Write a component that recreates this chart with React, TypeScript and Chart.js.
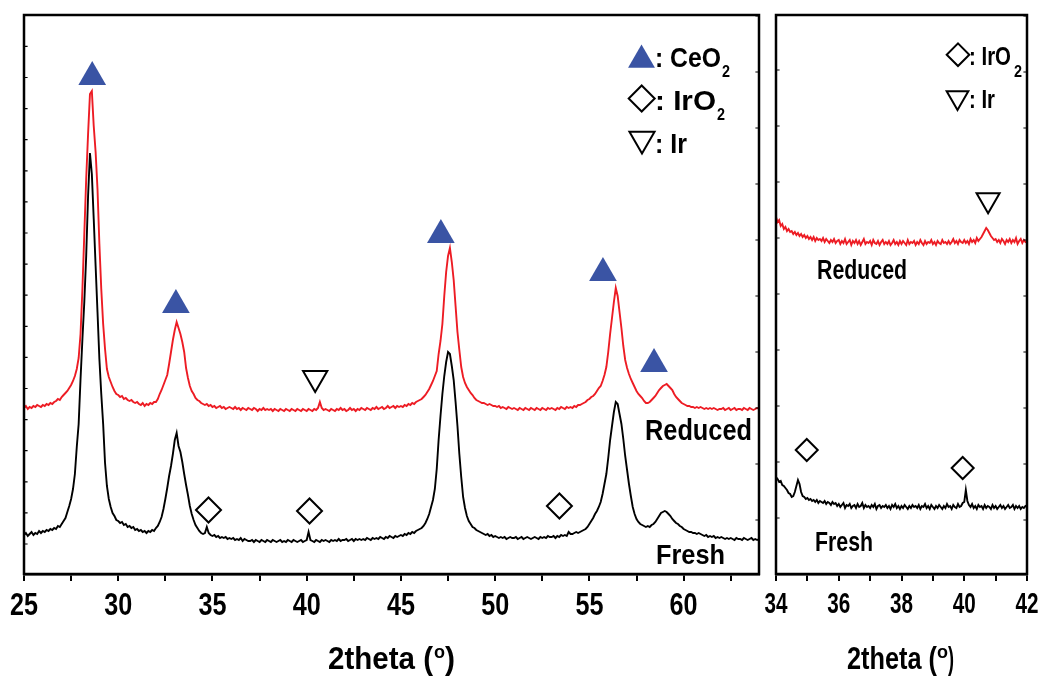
import React, { useEffect, useRef } from 'react';
import { Chart, registerables } from 'chart.js';

Chart.register(...registerables);

// ---------- DATA ----------
// 2theta sampling grids (degrees)
const leftTheta: number[] = Array.from({ length: 391 }, (_, i) => +(25 + i * 0.1).toFixed(1));
const rightTheta: number[] = Array.from({ length: 161 }, (_, i) => +(34 + i * 0.05).toFixed(2));

// Fresh catalyst, 25–64° (arb. units)
const freshLeft: number[] = [
  39, 41, 38, 40, 42, 39, 41, 40, 43, 41,
  43, 42, 44, 43, 45, 44, 46, 45, 48, 47,
  50, 53, 56, 62, 68, 75, 85, 100, 127, 150,
  195, 235, 272, 318, 378, 421, 400, 355, 308, 262,
  215, 180, 150, 111, 88, 75, 67, 61, 58, 54,
  53, 51, 52, 49, 50, 47, 48, 46, 47, 44,
  45, 43, 44, 42, 43, 41, 43, 42, 44, 43,
  46, 48, 52, 57, 65, 75, 86, 98, 108, 120,
  134, 141, 128, 122, 112, 100, 89, 79, 68, 60,
  54, 49, 46, 43, 41, 40, 41, 47, 41, 39,
  38, 39, 37, 38, 36, 37, 36, 37, 35, 36,
  35, 36, 34, 35, 34, 36, 33, 35, 34, 33,
  33, 34, 32, 34, 33, 32, 34, 33, 32, 34,
  33, 32, 34, 33, 32, 33, 34, 32, 33, 32,
  34, 33, 32, 34, 33, 32, 33, 34, 32, 33,
  34, 42, 34, 33, 32, 34, 33, 32, 34, 33,
  34, 33, 32, 34, 33, 34, 33, 35, 33, 34,
  34, 35, 33, 34, 35, 33, 35, 34, 35, 34,
  35, 34, 36, 35, 34, 36, 35, 36, 35, 37,
  36, 35, 37, 36, 38, 37, 36, 38, 37, 38,
  39, 38, 40, 39, 41, 40, 42, 41, 43, 44,
  45, 46, 48, 51, 55, 60, 67, 74, 85, 105,
  134, 158, 180, 198, 212, 222, 220, 208, 194, 172,
  148, 120, 97, 77, 66, 58, 53, 50, 47, 46,
  44, 43, 42, 41, 40, 39, 40, 38, 39, 37,
  38, 37, 36, 37, 36, 37, 35, 36, 37, 36,
  36, 37, 35, 36, 37, 35, 36, 37, 36, 35,
  36, 37, 36, 35, 37, 36, 37, 36, 38, 37,
  37, 38, 36, 38, 37, 39, 38, 39, 38, 42,
  40, 40, 41, 42, 41, 42, 43, 44, 45, 47,
  50, 53, 56, 60, 63, 67, 72, 80, 90, 100,
  116, 134, 148, 162, 172, 170, 160, 150, 135, 118,
  104, 90, 78, 67, 60, 55, 52, 50, 49, 48,
  47, 48, 47, 49, 50, 52, 55, 58, 61, 62,
  63, 62, 60, 58, 55, 53, 51, 50, 48, 47,
  45, 44, 43, 42, 42, 41, 41, 40, 41, 40,
  39, 38, 39, 37, 38, 37, 38, 36, 37, 36,
  37, 36, 35, 36, 35, 36, 35, 34, 36, 35,
  35, 34, 36, 35, 34, 35, 36, 34, 35, 34, 35,
];

// Reduced catalyst, 25–64°
const reducedLeft: number[] = [
  166, 168, 165, 167, 166, 168, 167, 169, 168, 167,
  169, 168, 170, 169, 171, 170, 172, 173, 175, 174,
  177, 179, 181, 183, 186, 189, 193, 198, 205, 216,
  240, 285, 340, 395, 440, 480, 483, 448, 422, 385,
  330, 285, 250, 225, 205, 197, 192, 187, 183, 180,
  179, 177, 178, 175, 176, 174, 173, 174, 172, 171,
  172, 170, 169, 171, 168, 170, 169, 171, 170, 172,
  172, 175, 180, 184, 189, 194, 199, 210, 222, 234,
  244, 252, 246, 240, 232, 222, 206, 196, 188, 183,
  180, 176, 174, 173, 171, 170, 169, 170, 168, 169,
  167, 168, 166, 167, 168, 166, 167, 165, 166, 167,
  166, 165, 167, 165, 166, 164, 166, 165, 164, 166,
  165, 164, 166, 165, 163, 165, 164, 166, 164, 165,
  164, 165, 163, 165, 164, 163, 165, 164, 163, 165,
  164, 163, 165, 164, 163, 165, 164, 163, 165, 164,
  163, 165, 164, 163, 165, 164, 166, 172, 166, 164,
  165, 164, 163, 165, 164, 163, 165, 164, 166, 164,
  165, 163, 164, 166, 164, 165, 163, 165, 164, 166,
  165, 164, 166, 165, 164, 166, 165, 167, 165, 166,
  167, 165, 166, 168, 166, 167, 168, 166, 168, 167,
  168, 167, 169, 168, 170, 169, 171, 170, 172, 173,
  174, 175, 177, 179, 182, 185, 189, 193, 198, 203,
  220, 233, 250, 278, 302, 318, 326, 312, 294, 268,
  242, 224, 207, 197, 191, 187, 184, 181, 179, 176,
  174, 173, 172, 171, 171, 170, 169, 170, 169, 168,
  168, 167, 168, 166, 167, 166, 165, 167, 166, 165,
  166, 165, 164, 166, 165, 164, 166, 165, 164, 166,
  165, 164, 166, 165, 164, 166, 165, 164, 166, 165,
  166, 165, 164, 166, 165, 167, 166, 165, 167, 166,
  167, 166, 168, 167, 169, 169, 170, 171, 172, 174,
  175, 177, 178, 180, 183, 186, 188, 193, 199, 207,
  222, 240, 256, 272, 286, 278, 262, 246, 228, 214,
  206, 200, 195, 191, 187, 183, 180, 178, 176, 173,
  171, 171, 172, 174, 176, 178, 181, 184, 186, 188,
  189, 190, 188, 186, 184, 180, 177, 175, 173, 171,
  170, 169, 168, 168, 167, 167, 166, 167, 166, 167,
  166, 165, 166, 165, 166, 165, 166, 165, 164, 165,
  165, 166, 164, 165, 166, 164, 165, 166, 164, 165,
  165, 164, 166, 165, 164, 166, 165, 164, 165, 166, 165,
];

// Zoomed region 34–42°
const reducedRight: number[] = [
  357, 352, 354, 348, 350, 345, 347, 343, 345, 342,
  343, 340, 342, 339, 341, 338, 340, 337, 339, 336,
  338, 335, 337, 334, 337, 333, 336, 334, 335, 333,
  336, 332, 335, 333, 331, 334, 332, 335, 331, 333,
  334, 330, 333, 331, 335, 330, 332, 334, 329, 333,
  331, 334, 330, 333, 329, 332, 335, 330, 332, 331,
  333, 329, 334, 331, 330, 333, 329, 332, 334, 330,
  332, 330, 333, 329, 331, 334, 330, 332, 329, 333,
  330, 333, 331, 329, 334, 330, 332, 331, 333, 329,
  332, 330, 334, 331, 329, 333, 330, 332, 331, 334,
  330, 332, 329, 333, 331, 330, 334, 331, 332, 330,
  333, 330, 332, 335, 331, 333, 330, 334, 332, 331,
  334, 331, 333, 330, 335, 332, 334, 331, 336, 333,
  335, 337, 340, 343, 346, 344, 341, 338, 336, 334,
  335, 332, 334, 331, 335, 333, 330, 334, 332, 335,
  331, 334, 332, 336, 330, 333, 335, 331, 334, 332,
  333,
];

const freshRight: number[] = [
  97, 95, 92, 93, 89, 88, 86, 84, 81, 80,
  77, 78, 82, 88, 94, 90, 82, 78, 77, 75,
  76, 74, 75, 73, 74, 72, 74, 71, 73, 72,
  71, 73, 70, 72, 71, 69, 72, 70, 71, 68,
  70, 67, 69, 71, 66, 69, 68, 70, 66, 68,
  69, 66, 70, 67, 68, 71, 66, 69, 67, 68,
  66, 69, 67, 70, 65, 68, 69, 66, 68, 67,
  69, 66, 68, 65, 69, 67, 70, 66, 68, 65,
  68, 66, 69, 67, 65, 68, 66, 69, 67, 68,
  66, 69, 65, 68, 67, 70, 66, 68, 65, 69,
  67, 65, 68, 66, 69, 67, 65, 68, 66, 70,
  67, 68, 65, 69, 67, 66, 70, 67, 68, 71,
  72, 84, 73, 69, 67, 70, 66, 68, 65, 69,
  67, 68, 65, 69, 66, 68, 67, 65, 69, 66,
  68, 65, 67, 69, 66, 68, 65, 67, 69, 66,
  67, 69, 65, 68, 66, 68, 65, 67, 66, 68,
  67,
];

// Peak markers
const ceo2X = [28.62, 33.06, 47.12, 55.72, 58.43];
const ceo2Y = [497, 269, 339, 301, 210];
const iro2LeftX = [34.79, 40.15, 53.41];
const iro2LeftY = [64, 63, 68];
const irLeftX = [40.45];
const irLeftY = [196];
const iro2RightX = [34.98, 39.95];
const iro2RightY = [124, 106];
const irRightX = [40.76];
const irRightY = [374];

// Axis settings
const leftRange = [25, 64];
const rightRange = [34, 42];
const leftTickStep = 2.5;
const rightTickStep = 1;
const leftLabelEvery = 5;
const rightLabelEvery = 2;

// ---------- STYLE / LAYOUT ----------
const RED = '#ed1c24';
const BLUE = '#3a54a4';
const FONT = '"Liberation Sans", Arial, sans-serif';
const Y_MAX = 559;

type Txt = [string, number, number, number, number]; // text, x, baseline, size, width
type Sym = { kind: 'tri' | 'inv' | 'dia'; x: number; y: number; r: number; fill?: string };

interface Panel {
  canvasLeft: number;
  canvasWidth: number;
  plotLeft: number;
  plotRight: number;
  labelEvery: number;
  labelSize: number;
  labelWidth: number;
  labelBase: number;
  texts: Txt[];
  symbols: Sym[];
  leftTick: [number, number];
  rightTick: [number, number];
}

const leftPanel: Panel = {
  canvasLeft: 0,
  canvasWidth: 770,
  plotLeft: 24,
  plotRight: 759,
  labelEvery: leftLabelEvery,
  labelSize: 32,
  labelWidth: 28,
  labelBase: 615,
  texts: [
    ['2theta (', 328, 669, 32, 105],
    ['o', 434, 658, 19, 11],
    [')', 445, 669, 32, 10],
    [': CeO', 655, 67, 28, 66],
    ['2', 722, 77, 17, 8],
    [': IrO', 655, 110, 28, 61],
    ['2', 717, 120, 17, 8],
    [': Ir', 655, 153, 28, 32],
    ['Reduced', 645, 440, 29, 107],
    ['Fresh', 656, 564, 28, 69],
  ],
  symbols: [
    { kind: 'tri', x: 641.5, y: 60, r: 15.5, fill: BLUE },
    { kind: 'dia', x: 641.7, y: 98.5, r: 13 },
    { kind: 'inv', x: 642, y: 139, r: 14.5 },
  ],
  leftTick: [30, 31.1],
  rightTick: [54, 56],
};

const rightPanel: Panel = {
  canvasLeft: 760,
  canvasWidth: 282,
  plotLeft: 776,
  plotRight: 1027,
  labelEvery: rightLabelEvery,
  labelSize: 30,
  labelWidth: 23,
  labelBase: 613,
  texts: [
    ['2theta (', 847, 669, 32, 90],
    ['o', 937, 658, 19, 11],
    [')', 948, 669, 32, 6],
    [': IrO', 969, 65, 26, 42],
    ['2', 1014, 77, 16, 8],
    [': Ir', 969, 108, 26, 26],
    ['Reduced', 817, 279, 27, 90],
    ['Fresh', 815, 551, 28, 58],
  ],
  symbols: [
    { kind: 'dia', x: 958, y: 54.7, r: 11.3 },
    { kind: 'inv', x: 957.5, y: 97.5, r: 12.5 },
  ],
  leftTick: [56, 56],
  rightTick: [54, 56],
};

function fitText(ctx: CanvasRenderingContext2D, t: Txt, offX: number) {
  const [text, x, y, size, width] = t;
  ctx.font = `bold ${size}px ${FONT}`;
  const w = ctx.measureText(text).width;
  ctx.save();
  ctx.translate(x - offX, y);
  ctx.scale(width / w, 1);
  ctx.fillStyle = '#000';
  ctx.textAlign = 'left';
  ctx.textBaseline = 'alphabetic';
  ctx.fillText(text, 0, 0);
  ctx.restore();
}

function drawShape(ctx: CanvasRenderingContext2D, s: Sym, offX: number) {
  const x = s.x - offX;
  const { y, r } = s;
  const h = r * Math.sin((2 * Math.PI) / 3);
  ctx.beginPath();
  if (s.kind === 'tri' || s.kind === 'inv') {
    const d = s.kind === 'tri' ? 1 : -1;
    ctx.moveTo(x, y - d * r);
    ctx.lineTo(x + h, y + (d * r) / 2);
    ctx.lineTo(x - h, y + (d * r) / 2);
  } else {
    ctx.moveTo(x, y - r);
    ctx.lineTo(x + r, y);
    ctx.lineTo(x, y + r);
    ctx.lineTo(x - r, y);
  }
  ctx.closePath();
  if (s.fill) {
    ctx.fillStyle = s.fill;
    ctx.fill();
  } else {
    ctx.lineWidth = 2;
    ctx.strokeStyle = '#000';
    ctx.stroke();
  }
}

function makePlugin(panel: Panel) {
  return {
    id: 'decor',
    afterDraw(chart: any) {
      const ctx: CanvasRenderingContext2D = chart.ctx;
      const { left, right, top, bottom } = chart.chartArea;
      const xs = chart.scales.x;
      const ys = chart.scales.y;
      ctx.save();
      ctx.strokeStyle = '#000';
      ctx.lineWidth = 2.5;
      ctx.lineCap = 'square';
      ctx.strokeRect(left, top, right - left, bottom - top);
      // inward y ticks
      ctx.lineWidth = 1.2;
      ctx.beginPath();
      for (let v = panel.leftTick[0]; v < Y_MAX; v += panel.leftTick[1]) {
        const py = ys.getPixelForValue(v);
        ctx.moveTo(left, py);
        ctx.lineTo(left + 3, py);
      }
      for (let v = panel.rightTick[0]; v < Y_MAX; v += panel.rightTick[1]) {
        const py = ys.getPixelForValue(v);
        ctx.moveTo(right, py);
        ctx.lineTo(right - 3, py);
      }
      ctx.stroke();
      // tick labels
      for (const tk of xs.ticks) {
        const v = tk.value;
        if (Math.abs(v / panel.labelEvery - Math.round(v / panel.labelEvery)) > 1e-6) continue;
        const px = xs.getPixelForValue(v) + panel.canvasLeft;
        fitText(ctx, [String(v), px - panel.labelWidth / 2, panel.labelBase, panel.labelSize, panel.labelWidth], panel.canvasLeft);
      }
      for (const t of panel.texts) fitText(ctx, t, panel.canvasLeft);
      for (const s of panel.symbols) drawShape(ctx, s, panel.canvasLeft);
      ctx.restore();
    },
  };
}

function pairs(xs: number[], ys: number[]) {
  return xs.map((x, i) => [x, ys[i]]);
}

function buildChart(canvas: HTMLCanvasElement, panel: Panel, datasets: any[], range: number[], step: number) {
  return new Chart(canvas, {
    type: 'scatter',
    data: { datasets },
    options: {
      animation: false,
      responsive: false,
      maintainAspectRatio: false,
      events: [],
      layout: {
        autoPadding: false,
        padding: {
          left: panel.plotLeft - panel.canvasLeft,
          right: panel.canvasWidth - (panel.plotRight - panel.canvasLeft),
          top: 15,
          bottom: 0,
        },
      },
      plugins: { legend: { display: false }, tooltip: { enabled: false } },
      scales: {
        x: {
          type: 'linear',
          min: range[0],
          max: range[1],
          afterFit: (s: any) => {
            s.height = 677 - 574;
          },
          ticks: { stepSize: step, includeBounds: false, display: false, autoSkip: false },
          grid: {
            display: true,
            drawOnChartArea: false,
            drawTicks: true,
            tickLength: 7,
            tickWidth: 2,
            tickColor: '#000',
            lineWidth: 2,
            color: '#000',
          },
          border: { display: true, color: '#000', width: 2.5 },
        },
        y: { type: 'linear', display: false, min: 0, max: Y_MAX },
      },
    } as any,
    plugins: [makePlugin(panel) as any],
  });
}

function lineDs(data: any[], color: string) {
  return {
    data,
    showLine: true,
    borderColor: color,
    borderWidth: 1.9,
    pointRadius: 0,
    tension: 0,
    order: 2,
  };
}

function markerDs(xs: number[], ys: number[], style: string, r: number, fill: string | null, rotation = 0) {
  return {
    data: pairs(xs, ys),
    showLine: false,
    pointStyle: style,
    pointRadius: r,
    pointRotation: rotation,
    pointBackgroundColor: fill || 'rgba(0,0,0,0)',
    pointBorderColor: fill || '#000',
    pointBorderWidth: fill ? 0 : 2,
    order: 1,
  };
}

export default function App() {
  const leftRef = useRef<HTMLCanvasElement>(null);
  const rightRef = useRef<HTMLCanvasElement>(null);

  useEffect(() => {
    const c1 = buildChart(
      leftRef.current!,
      leftPanel,
      [
        markerDs(ceo2X, ceo2Y, 'triangle', 16, BLUE),
        markerDs(iro2LeftX, iro2LeftY, 'rectRot', 12.5, null),
        markerDs(irLeftX, irLeftY, 'triangle', 14, null, 180),
        lineDs(pairs(leftTheta, reducedLeft), RED),
        lineDs(pairs(leftTheta, freshLeft), '#000'),
      ],
      leftRange,
      leftTickStep,
    );
    const c2 = buildChart(
      rightRef.current!,
      rightPanel,
      [
        markerDs(iro2RightX, iro2RightY, 'rectRot', 11, null),
        markerDs(irRightX, irRightY, 'triangle', 13.3, null, 180),
        lineDs(pairs(rightTheta, reducedRight), RED),
        lineDs(pairs(rightTheta, freshRight), '#000'),
      ],
      rightRange,
      rightTickStep,
    );
    return () => {
      c1.destroy();
      c2.destroy();
    };
  }, []);

  return (
    <div style={{ position: 'absolute', left: 0, top: 0, width: 1042, height: 677, background: '#fff' }}>
      <canvas
        ref={leftRef}
        width={leftPanel.canvasWidth}
        height={677}
        style={{ position: 'absolute', left: leftPanel.canvasLeft, top: 0, width: leftPanel.canvasWidth, height: 677 }}
      />
      <canvas
        ref={rightRef}
        width={rightPanel.canvasWidth}
        height={677}
        style={{ position: 'absolute', left: rightPanel.canvasLeft, top: 0, width: rightPanel.canvasWidth, height: 677 }}
      />
    </div>
  );
}
